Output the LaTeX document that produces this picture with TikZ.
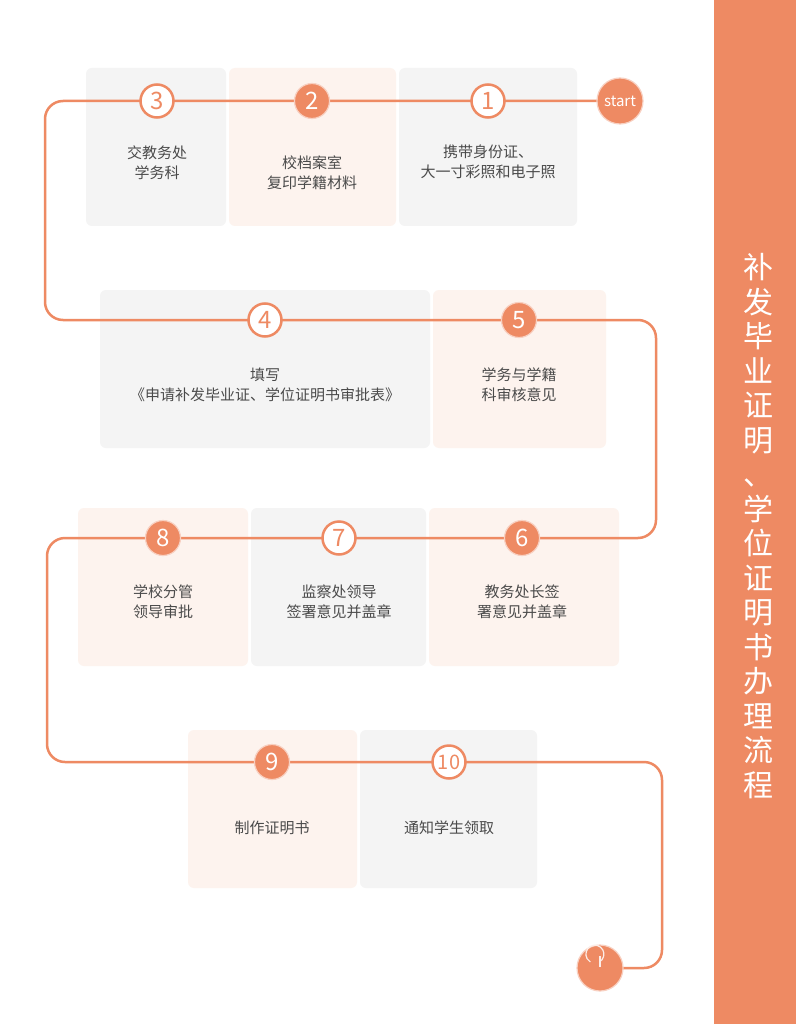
\documentclass[tikz,border=0pt]{standalone}
\usepackage{fontspec}
\setmainfont{Noto Sans CJK SC}
\usepackage{tikz}
\usetikzlibrary{positioning, calc}
\definecolor{accent}{HTML}{EE8A63}
\definecolor{greybox}{HTML}{F4F4F4}
\definecolor{pinkbox}{HTML}{FDF3EE}
\definecolor{txt}{HTML}{4A4A4A}
\tikzset{
    greystep/.style={fill=greybox, rounded corners=6pt},
    pinkstep/.style={fill=pinkbox, rounded corners=6pt},
    numfull/.style={circle, fill=accent, draw=accent!40, line width=1.2pt, minimum size=35pt, inner sep=0pt, text=white, font=\fontsize{24}{24}\selectfont},
    numring/.style={circle, fill=white, draw=accent, line width=2.5pt, minimum size=33pt, inner sep=0pt, text=accent, font=\fontsize{24}{24}\selectfont},
    label/.style={text=txt, align=center, font=\fontsize{15}{20}\selectfont},
    track/.style={accent, line width=2.5pt, rounded corners=18pt}
}

\begin{document}
\begin{tikzpicture}[x=1pt, y=-1pt]
    \useasboundingbox (0,0) rectangle (796,1024);
    \fill[white] (0,0) rectangle (796,1024);
    % title band
    \fill[accent] (714,0) rectangle (796,1024);
    \node[text=white, align=center, font=\fontsize{30}{34.5}\selectfont] (title) at (758,526)
        {补\\发\\毕\\业\\证\\明\\、\\学\\位\\证\\明\\书\\办\\理\\流\\程};
    % boxes
    \fill[greystep] (86,68) rectangle (226,226);
    \fill[pinkstep] (229,68) rectangle (396,226);
    \fill[greystep] (399,68) rectangle (577,226);
    \fill[greystep] (100,290) rectangle (430,448);
    \fill[pinkstep] (433,290) rectangle (606,448);
    \fill[pinkstep] (78,508) rectangle (248,666);
    \fill[greystep] (251,508) rectangle (426,666);
    \fill[pinkstep] (429,508) rectangle (619,666);
    \fill[pinkstep] (188,730) rectangle (357,888);
    \fill[greystep] (360,730) rectangle (537,888);
    % track
    \coordinate (go) at (620,101);
    \coordinate (stop) at (600,968);
    \draw[track] (go) -- (45,101) -- (45,320) -- (656,320) -- (656,538)
        -- (47,538) -- (47,762) -- (662,762) -- (662,968) -- (stop);
    % start and end
    \node[circle, fill=accent, draw=accent!40, line width=1.2pt, minimum size=46pt, text=white,
        font=\fontsize{15}{15}\selectfont] (start) at (go) {start};
    \node[circle, fill=accent, draw=accent!40, line width=1.2pt, minimum size=46pt] (finish) at (stop) {};
    \draw[white!85!accent, line width=1.2pt] ($(finish)+(-0.6,-6)$) arc (-60:240:9pt);
    \draw[white!85!accent, line width=1.2pt] ($(finish)+(0,-1)$) -- ($(finish)+(0,-12)$);
    % numbers
    \node[numring] (n1) at (488,101) {1};
    \node[numfull] (n2) at (312,101) {2};
    \node[numring] (n3) at (157,101) {3};
    \node[numring] (n4) at (265,320) {4};
    \node[numfull] (n5) at (519,320) {5};
    \node[numfull] (n6) at (522,538) {6};
    \node[numring] (n7) at (339,538) {7};
    \node[numfull] (n8) at (163,538) {8};
    \node[numfull] (n9) at (272,762) {9};
    \node[numring, font=\fontsize{20}{20}\selectfont] (n10) at (449,762) {10};
    % labels
    \node[label] (t1) at (488,162) {携带身份证、\\大一寸彩照和电子照};
    \node[label] (t2) at (312,173) {校档案室\\复印学籍材料};
    \node[label] (t3) at (157,163) {交教务处\\学务科};
    \node[label] (t4) at (265,385) {填写\\《申请补发毕业证、学位证明书审批表》};
    \node[label] (t5) at (519,385) {学务与学籍\\科审核意见};
    \node[label] (t6) at (522,602) {教务处长签\\署意见并盖章};
    \node[label] (t7) at (339,602) {监察处领导\\签署意见并盖章};
    \node[label] (t8) at (163,602) {学校分管\\领导审批};
    \node[label] (t9) at (272,828) {制作证明书};
    \node[label] (t10) at (449,828) {通知学生领取};
\end{tikzpicture}
\end{document}
